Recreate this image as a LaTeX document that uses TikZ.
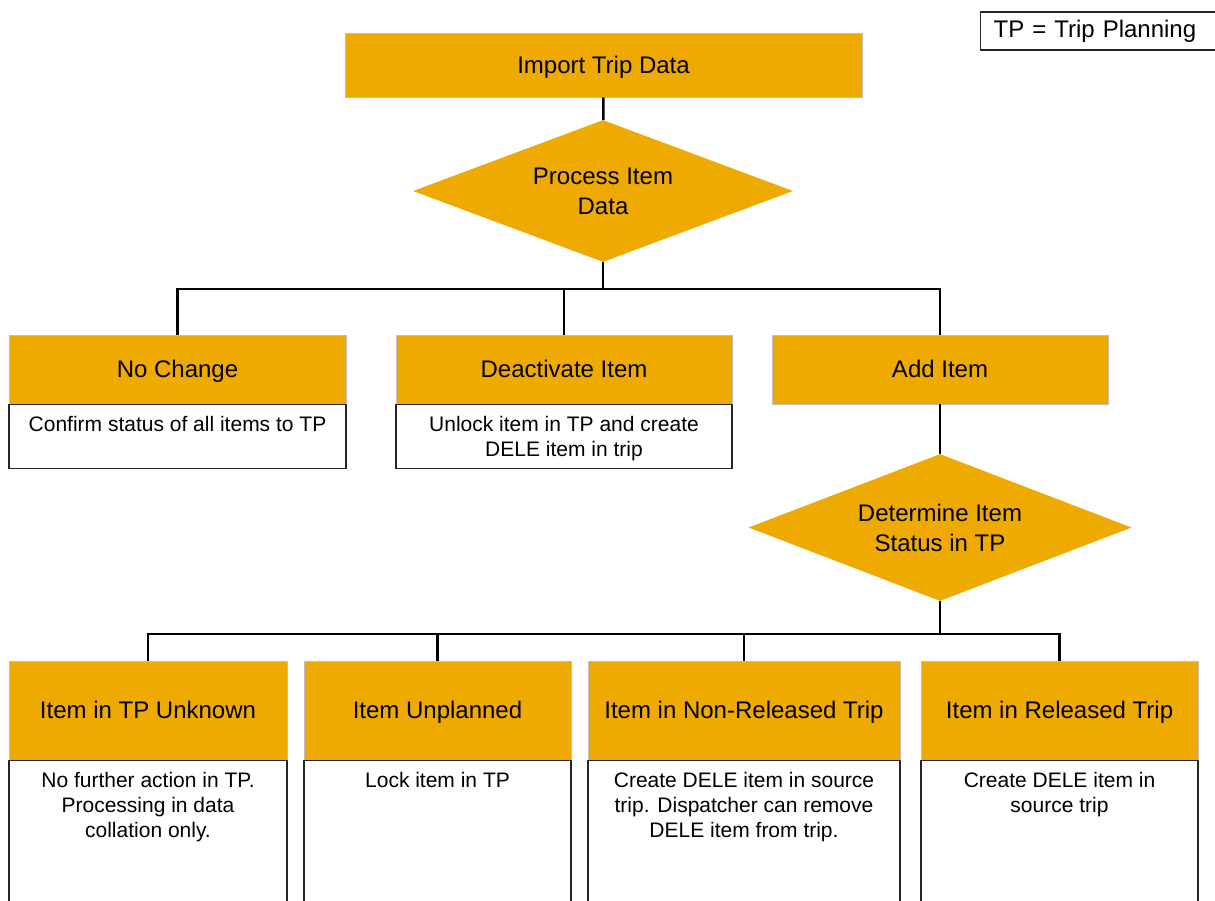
\documentclass[tikz,border=0pt]{standalone}
\usepackage{fontspec}
\setmainfont{Liberation Sans}
\usetikzlibrary{shapes.geometric}
\definecolor{gold}{RGB}{238,170,0}
% centred, top-aligned text block for the white description boxes
\newcommand\celltext[2]{\parbox[t]{#1}{\centering #2}}
\begin{document}
\begin{tikzpicture}[x=0.6pt,y=-0.6pt,
  hdr/.style={rectangle, fill=gold, draw=black!25, line width=0.4pt, inner sep=0pt,
    text height=10.3pt, text depth=0.6pt,
    font=\fontsize{14.4}{17}\selectfont},
  dec/.style={diamond, fill=gold, inner sep=0pt, align=center,
    font=\fontsize{14.4}{18}\selectfont},
  body/.style={rectangle, draw=black!85, line width=0.8pt, fill=white, anchor=north,
    inner xsep=4pt, inner ysep=5pt, text height=11pt,
    font=\fontsize{12.6}{15}\selectfont},
  keybox/.style={rectangle, draw=black!85, line width=0.8pt, anchor=west,
    inner xsep=7.8pt, inner ysep=0pt, text width=128.4pt, align=left,
    minimum height=22.8pt, font=\fontsize{14.4}{17}\selectfont},
  wire/.style={draw=black, line width=1.5pt}]
\useasboundingbox (0,0) rectangle (1215,900);
\clip (0,0) rectangle (1215,900);

% legend
\node[keybox] (key) at (980,31) {TP = Trip Planning};

% top of the flow
\node[hdr, minimum width=310.2pt, minimum height=38.4pt] (imp) at (603.5,65) {Import Trip Data};
\node[dec, shape aspect=2.676, minimum width=228pt, minimum height=85.2pt] (proc) at (603,191) {Process Item\\Data};

% first level of outcomes
\node[hdr, minimum width=202.2pt, minimum height=41.4pt] (nochg) at (177.5,369.5) {No Change};
\node[hdr, minimum width=201.6pt, minimum height=41.4pt] (deact) at (564,369.5) {Deactivate Item};
\node[hdr, minimum width=201.6pt, minimum height=41.4pt] (add) at (940,369.5) {Add Item};

\node[body, minimum width=202.2pt, text depth=17.4pt] (nochgB) at (177.5,404)
  {\celltext{190pt}{Confirm status of all items to TP}};
\node[body, minimum width=201.6pt, text depth=17.4pt] (deactB) at (564,404)
  {\celltext{190pt}{Unlock item in TP and create\\DELE item in trip}};

\node[dec, shape aspect=2.605, minimum width=229.8pt, minimum height=88.2pt] (stat) at (940,527.5) {Determine Item\\Status in TP};

% second level of outcomes
\node[hdr, minimum width=166.8pt, minimum height=59.4pt] (unk) at (148,710.5) {Item in TP Unknown};
\node[hdr, minimum width=160.2pt, minimum height=59.4pt] (unpl) at (437.5,710.5) {Item Unplanned};
\node[hdr, minimum width=187.2pt, minimum height=59.4pt] (nonrel) at (744,710.5) {Item in Non-Released Trip};
\node[hdr, minimum width=166.2pt, minimum height=59.4pt] (rel) at (1059.5,710.5) {Item in Released Trip};

\node[body, minimum width=166.8pt, text depth=69pt] (unkB) at (148,760)
  {\celltext{155pt}{No further action in TP.\\Processing in data\\collation only.}};
\node[body, minimum width=160.2pt, text depth=69pt] (unplB) at (437.5,760)
  {\celltext{150pt}{Lock item in TP}};
\node[body, minimum width=187.2pt, text depth=69pt] (nonrelB) at (744,760)
  {\celltext{176pt}{Create DELE item in source\\trip. Dispatcher can remove\\DELE item from trip.}};
\node[body, minimum width=166.2pt, text depth=69pt] (relB) at (1059.5,760)
  {\celltext{155pt}{Create DELE item in\\source trip}};

% connectors
\coordinate (busA) at (603,289);
\coordinate (busB) at (940,634);
\draw[wire] (imp) -- (proc);
\draw[wire] (proc.south) -- (busA);
\draw[wire] (nochg.north) -- (nochg.north |- busA) -- (add.north |- busA) -- (add.north);
\draw[wire] (deact.north) -- (deact.north |- busA);
\draw[wire] (add.south) -- (stat.north);
\draw[wire] (stat.south) -- (busB);
\draw[wire] (unk.north) -- (unk.north |- busB) -- (rel.north |- busB) -- (rel.north);
\draw[wire] (unpl.north) -- (unpl.north |- busB);
\draw[wire] (nonrel.north) -- (nonrel.north |- busB);
\end{tikzpicture}
\end{document}
